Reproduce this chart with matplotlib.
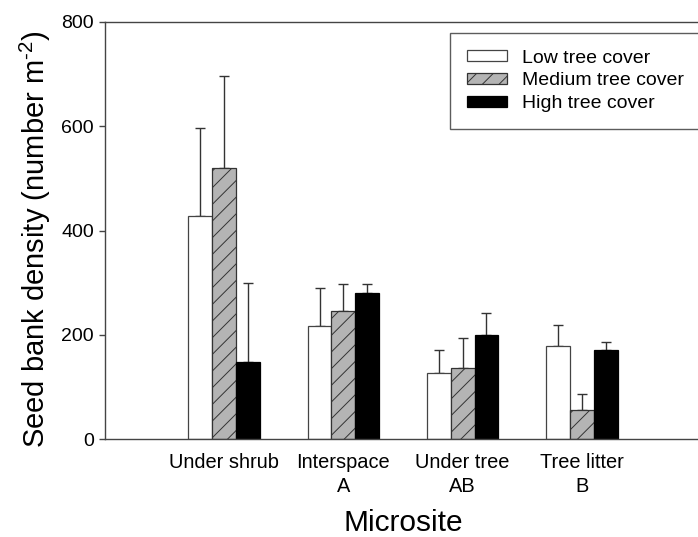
import numpy as np
import matplotlib
matplotlib.use("Agg")
import matplotlib.pyplot as plt

plt.rcParams['font.family'] = ['Liberation Sans', 'DejaVu Sans']
plt.rcParams['mathtext.fontset'] = 'custom'
plt.rcParams['mathtext.rm'] = 'Liberation Sans'
plt.rcParams['mathtext.it'] = 'Liberation Sans:italic'
plt.rcParams['hatch.linewidth'] = 0.7

microsites = ['Under shrub\n', 'Interspace\nA', 'Under tree\nAB', 'Tree litter\nB']
series = ['Low tree cover', 'Medium tree cover', 'High tree cover']

low_mean = [427, 216, 127, 178]
low_err = [169, 73, 44, 41]
med_mean = [520, 246, 136, 56]
med_err = [177, 52, 58, 30]
high_mean = [148, 281, 200, 170]
high_err = [151, 16, 41, 16]

fig = plt.figure(figsize=(6.98, 5.37), dpi=100)
# axes box runs slightly past the right edge, like the original crop
ax = fig.add_axes([105 / 698, 98 / 537, 596 / 698, 417 / 537])

x = np.arange(1, 5)
w = 0.2
ax.bar(x - w, low_mean, w, color='white', edgecolor='#444444', linewidth=0.9,
       label=series[0], zorder=2)
ax.bar(x, med_mean, w, color='#b4b4b4', edgecolor='#333333', linewidth=0.9,
       hatch='//', label=series[1], zorder=2)
ax.bar(x + w, high_mean, w, color='black', edgecolor='black', linewidth=0.9,
       label=series[2], zorder=2)

for off, m, e in [(-w, low_mean, low_err), (0, med_mean, med_err), (w, high_mean, high_err)]:
    ax.errorbar(x + off, m, yerr=[np.zeros(len(m)), e], fmt='none', ecolor='#333333',
                elinewidth=1, capsize=3.6, capthick=1, zorder=1)

ax.set_xlim(0, 5)
ax.set_ylim(0, 800)
ax.set_yticks([0, 200, 400, 600, 800])
ax.set_xticks(x)
ax.set_xticklabels(microsites, fontsize=14.4, linespacing=1.35)
ax.tick_params(axis='x', length=0, pad=10)
ax.tick_params(axis='y', labelsize=14, length=4, width=1, color='#444444', pad=4)
for s in ax.spines.values():
    s.set_color('#444444')
    s.set_linewidth(1)

ax.set_xlabel('Microsite', fontsize=21.5)
ax.set_ylabel('Seed bank density (number m$^{\\text{-2}}$)', fontsize=21)
ax.yaxis.set_label_coords(-0.088, 0.48)
ax.xaxis.set_label_coords(0.5, -0.168)

leg = ax.legend(loc='upper left', bbox_to_anchor=(450 / 698, 1 - 33 / 537),
                bbox_transform=fig.transFigure, fontsize=14, frameon=True,
                fancybox=False, handlelength=2.1, handleheight=0.5,
                handletextpad=0.75, labelspacing=0.3, borderpad=0.85, borderaxespad=0)
leg.get_frame().set_edgecolor('#333333')
leg.get_frame().set_linewidth(1)

fig.savefig('out.png', dpi=100)
